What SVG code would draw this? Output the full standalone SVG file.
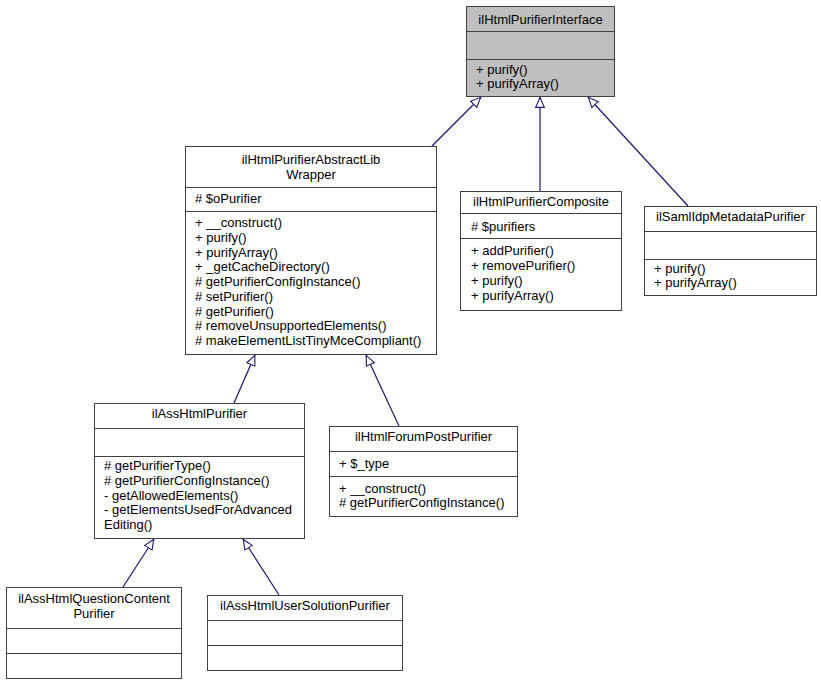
<svg xmlns="http://www.w3.org/2000/svg" width="821" height="684" viewBox="0 0 821 684">
<style>
.box{fill:#fff;stroke:#404040;stroke-width:1}
.gray{fill:#bfbfbf}
.sep{stroke:#404040;stroke-width:1}
text{font-family:"Liberation Sans",Arial,sans-serif;font-size:13px;fill:#000}
.c{text-anchor:middle}
.edge{fill:none;stroke:#191970;stroke-width:1.2}
</style>
<defs>
<marker id="tri" viewBox="0 0 11 10" refX="11" refY="5" markerUnits="userSpaceOnUse" markerWidth="11" markerHeight="10" orient="auto">
<path d="M0.6,0.6 L10.5,5 L0.6,9.4 Z" fill="#fff" stroke="#191970" stroke-width="1.1"/>
</marker>
</defs>
<rect width="821" height="684" fill="#fff"/>
<g id="connectors">
<path class="edge" d="M432,146 L481,97" marker-end="url(#tri)"/>
<path class="edge" d="M540,191 L540,97" marker-end="url(#tri)"/>
<path class="edge" d="M688,206 L588,97" marker-end="url(#tri)"/>
<path class="edge" d="M234,403 L255,355" marker-end="url(#tri)"/>
<path class="edge" d="M399,426 L366,355" marker-end="url(#tri)"/>
<path class="edge" d="M123,587 L154,539" marker-end="url(#tri)"/>
<path class="edge" d="M279,595 L243,539" marker-end="url(#tri)"/>
</g>
<g id="ilHtmlPurifierInterface">
<rect class="box gray" x="466.5" y="6.5" width="148" height="90"/>
<line class="sep" x1="466.5" y1="31.5" x2="614.5" y2="31.5"/>
<line class="sep" x1="466.5" y1="59.5" x2="614.5" y2="59.5"/>
<text class="c" x="540.5" y="24">ilHtmlPurifierInterface</text>
<text x="476" y="74">+ purify()</text>
<text x="476" y="88">+ purifyArray()</text>
</g>
<g id="ilHtmlPurifierAbstractLibWrapper">
<rect class="box" x="185.5" y="146.5" width="251" height="208"/>
<line class="sep" x1="185.5" y1="187.5" x2="436.5" y2="187.5"/>
<line class="sep" x1="185.5" y1="211.5" x2="436.5" y2="211.5"/>
<text class="c" x="311" y="164">ilHtmlPurifierAbstractLib</text>
<text class="c" x="311" y="179">Wrapper</text>
<text x="195" y="203"># $oPurifier</text>
<text x="195" y="227">+ __construct()</text>
<text x="195" y="241.75">+ purify()</text>
<text x="195" y="256.5">+ purifyArray()</text>
<text x="195" y="271.25">+ _getCacheDirectory()</text>
<text x="195" y="286"># getPurifierConfigInstance()</text>
<text x="195" y="300.75"># setPurifier()</text>
<text x="195" y="315.5"># getPurifier()</text>
<text x="195" y="330.25"># removeUnsupportedElements()</text>
<text x="195" y="345"># makeElementListTinyMceCompliant()</text>
</g>
<g id="ilHtmlPurifierComposite">
<rect class="box" x="460.5" y="191.5" width="161" height="119"/>
<line class="sep" x1="460.5" y1="213.5" x2="621.5" y2="213.5"/>
<line class="sep" x1="460.5" y1="238.5" x2="621.5" y2="238.5"/>
<text class="c" x="541" y="206">ilHtmlPurifierComposite</text>
<text x="471" y="231"># $purifiers</text>
<text x="471" y="255">+ addPurifier()</text>
<text x="471" y="270">+ removePurifier()</text>
<text x="471" y="285">+ purify()</text>
<text x="471" y="300">+ purifyArray()</text>
</g>
<g id="ilSamlIdpMetadataPurifier">
<rect class="box" x="644.5" y="206.5" width="172" height="89"/>
<line class="sep" x1="644.5" y1="231.5" x2="816.5" y2="231.5"/>
<line class="sep" x1="644.5" y1="259.5" x2="816.5" y2="259.5"/>
<text class="c" x="730.5" y="221">ilSamlIdpMetadataPurifier</text>
<text x="654" y="273">+ purify()</text>
<text x="654" y="287">+ purifyArray()</text>
</g>
<g id="ilAssHtmlPurifier">
<rect class="box" x="94.5" y="403.5" width="210" height="135"/>
<line class="sep" x1="94.5" y1="428.5" x2="304.5" y2="428.5"/>
<line class="sep" x1="94.5" y1="456.5" x2="304.5" y2="456.5"/>
<text class="c" x="199.5" y="418">ilAssHtmlPurifier</text>
<text x="104" y="470"># getPurifierType()</text>
<text x="104" y="484.75"># getPurifierConfigInstance()</text>
<text x="104" y="499.5">- getAllowedElements()</text>
<text x="104" y="514.25">- getElementsUsedForAdvanced</text>
<text x="104" y="529">Editing()</text>
</g>
<g id="ilHtmlForumPostPurifier">
<rect class="box" x="329.5" y="426.5" width="188" height="90"/>
<line class="sep" x1="329.5" y1="451.5" x2="517.5" y2="451.5"/>
<line class="sep" x1="329.5" y1="476.5" x2="517.5" y2="476.5"/>
<text class="c" x="423.5" y="441">ilHtmlForumPostPurifier</text>
<text x="339" y="468">+ $_type</text>
<text x="339" y="493">+ __construct()</text>
<text x="339" y="507"># getPurifierConfigInstance()</text>
</g>
<g id="ilAssHtmlQuestionContentPurifier">
<rect class="box" x="6.5" y="587.5" width="175" height="91"/>
<line class="sep" x1="6.5" y1="628.5" x2="181.5" y2="628.5"/>
<line class="sep" x1="6.5" y1="653.5" x2="181.5" y2="653.5"/>
<text class="c" x="94" y="603">ilAssHtmlQuestionContent</text>
<text class="c" x="94" y="618">Purifier</text>
</g>
<g id="ilAssHtmlUserSolutionPurifier">
<rect class="box" x="207.5" y="595.5" width="195" height="75"/>
<line class="sep" x1="207.5" y1="620.5" x2="402.5" y2="620.5"/>
<line class="sep" x1="207.5" y1="645.5" x2="402.5" y2="645.5"/>
<text class="c" x="305" y="610">ilAssHtmlUserSolutionPurifier</text>
</g>
</svg>
